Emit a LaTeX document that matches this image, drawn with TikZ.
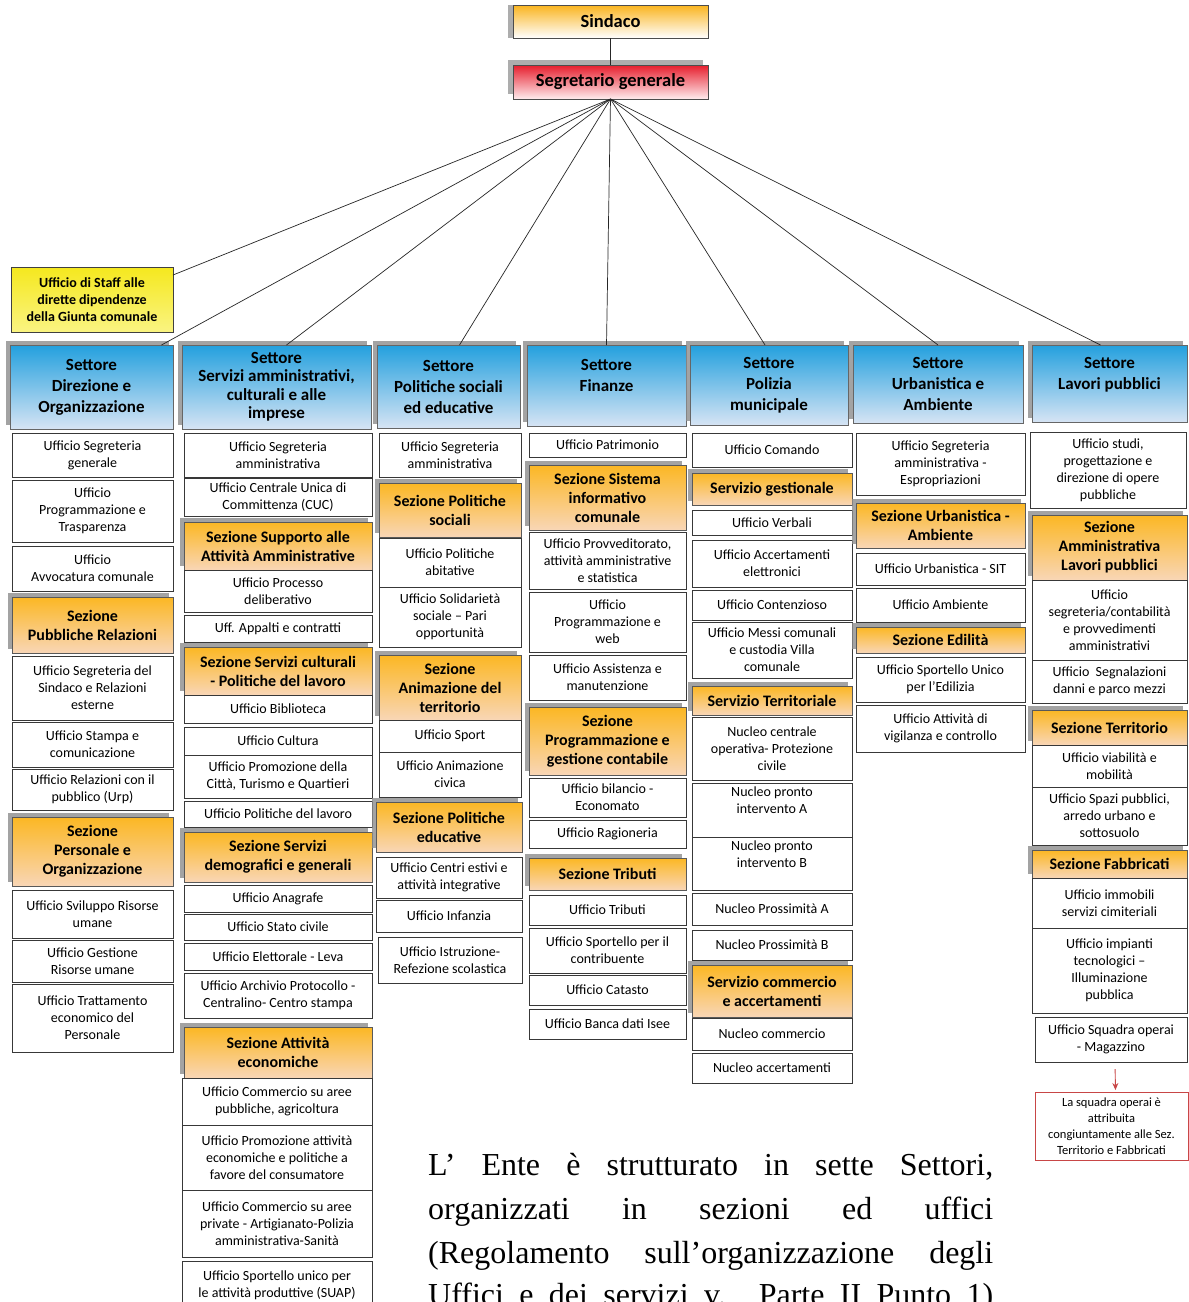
\documentclass[tikz,border=0pt]{standalone}
\usepackage{fontspec}
\setmainfont{Carlito}
\newfontfamily\timesf{Liberation Serif}
\usetikzlibrary{calc,shadows,arrows.meta}
\definecolor{sindT}{RGB}{250,180,30}
\definecolor{segT}{RGB}{230,30,45}
\definecolor{segB}{RGB}{255,236,238}
\definecolor{staffT}{RGB}{245,232,30}
\definecolor{staffB}{RGB}{250,244,130}
\definecolor{setT}{RGB}{35,160,222}
\definecolor{setB}{RGB}{214,228,244}
\definecolor{sezT}{RGB}{251,183,35}
\definecolor{sezB}{RGB}{249,214,182}
\definecolor{noteR}{RGB}{200,70,70}
\newcommand\bx[7]{\node[#2, minimum width={(#5-#3)*1pt}, minimum height={(#6-#4)*1pt}] (#1) at ({(#3+#5)/2},{(#4+#6)/2}) {#7};}
\tikzset{
  boxbase/.style={align=center, inner sep=1pt, outer sep=0pt},
  ufbox/.style={boxbase, draw=black!78, line width=1pt, fill=white, font=\fontsize{14}{17}\selectfont},
  sezbox/.style={boxbase, draw=black!65, line width=0.8pt, top color=sezT, bottom color=sezB,
     font=\bfseries\fontsize{16}{19}\selectfont,
     drop shadow={shadow xshift=-4pt, shadow yshift=4pt, fill=black!45, opacity=0.8}},
  setbox/.style={boxbase, draw=black!60, line width=0.8pt, top color=setT, bottom color=setB,
     font=\bfseries\fontsize{17}{21}\selectfont,
     drop shadow={shadow xshift=-4pt, shadow yshift=4pt, fill=black!45, opacity=0.8}},
  sindbox/.style={boxbase, draw=black!70, line width=0.8pt, top color=sindT, bottom color=white,
     font=\bfseries\fontsize{18.5}{22}\selectfont,
     drop shadow={shadow xshift=-5pt, shadow yshift=0pt, fill=black!40, opacity=0.8}},
  segbox/.style={boxbase, draw=black!70, line width=0.8pt, top color=segT, bottom color=segB,
     font=\bfseries\fontsize{18.5}{22}\selectfont,
     drop shadow={shadow xshift=-5pt, shadow yshift=5pt, fill=black!40, opacity=0.8}},
  staffbox/.style={boxbase, draw=black!75, line width=0.9pt, top color=staffT, bottom color=staffB,
     font=\bfseries\fontsize{14}{17}\selectfont},
  notebox/.style={boxbase, draw=noteR, line width=0.8pt, fill=white, font=\fontsize{12.5}{16}\selectfont},
  conn/.style={draw=black!85, line width=0.7pt},
  redarr/.style={draw=noteR, line width=0.9pt, -{Stealth[length=7pt,width=6pt]}},
  txtline/.style={anchor=base west, inner sep=0pt, font=\timesf\fontsize{32}{44}\selectfont}
}
\begin{document}
\begin{tikzpicture}[x=1pt,y=-1pt]
\useasboundingbox (0,0) rectangle (1189,1302);
\fill[white] (0,0) rectangle (1189,1302);
% top
\bx{sind}{sindbox}{513}{5}{708}{38}{Sindaco}
\bx{seg}{segbox}{513}{65}{708}{99}{Segretario generale}
\bx{staff}{staffbox}{11}{267}{173}{332}{Ufficio di Staff alle\\dirette dipendenze\\della Giunta comunale}
% column 1
\bx{c1h}{setbox}{10}{345}{173}{429}{Settore\\Direzione e\\Organizzazione}
\bx{c1a}{ufbox}{12}{433}{173}{477}{Ufficio Segreteria\\generale}
\bx{c1b}{ufbox}{12}{480}{173}{542}{Ufficio\\Programmazione e\\Trasparenza}
\bx{c1c}{ufbox}{12}{546}{173}{591}{Ufficio\\Avvocatura comunale}
\bx{c1s1}{sezbox}{12}{597}{173}{653}{Sezione\\Pubbliche Relazioni}
\bx{c1d}{ufbox}{12}{656}{173}{720}{Ufficio Segreteria del\\Sindaco e Relazioni\\esterne}
\bx{c1e}{ufbox}{12}{722}{173}{767}{Ufficio Stampa e\\comunicazione}
\bx{c1f}{ufbox}{12}{769}{173}{810}{Ufficio Relazioni con il\\pubblico (Urp)}
\bx{c1s2}{sezbox}{12}{817}{173}{886}{Sezione\\Personale e\\Organizzazione}
\bx{c1g}{ufbox}{12}{890}{173}{938}{Ufficio Sviluppo Risorse\\umane}
\bx{c1i}{ufbox}{12}{940}{173}{982}{Ufficio Gestione\\Risorse umane}
\bx{c1j}{ufbox}{12}{984}{173}{1052}{Ufficio Trattamento\\economico del\\Personale}
% column 2
\bx{c2h}{setbox, font=\bfseries\fontsize{17}{18.5}\selectfont}{182}{345}{371}{429}{Settore\\Servizi amministrativi,\\culturali e alle\\imprese}
\bx{c2a}{ufbox}{184}{433}{372}{477}{Ufficio Segreteria\\amministrativa}
\bx{c2b}{ufbox}{184}{478}{372}{516}{Ufficio Centrale Unica di\\Committenza (CUC)}
\bx{c2s1}{sezbox}{184}{522}{372}{570}{Sezione Supporto alle\\Attività Amministrative}
\bx{c2c}{ufbox}{184}{570}{372}{612}{Ufficio Processo\\deliberativo}
\bx{c2d}{ufbox}{184}{615}{372}{642}{Uff. Appalti e contratti}
\bx{c2s2}{sezbox}{184}{647}{372}{695}{Sezione Servizi culturali\\- Politiche del lavoro}
\bx{c2e}{ufbox}{184}{695}{372}{723}{Ufficio Biblioteca}
\bx{c2f}{ufbox}{184}{727}{372}{755}{Ufficio Cultura}
\bx{c2g}{ufbox}{184}{755}{372}{798}{Ufficio Promozione della\\Città, Turismo e Quartieri}
\bx{c2i}{ufbox}{184}{801}{372}{827}{Ufficio Politiche del lavoro}
\bx{c2s3}{sezbox}{184}{832}{372}{882}{Sezione Servizi\\demografici e generali}
\bx{c2j}{ufbox}{184}{885}{372}{912}{Ufficio Anagrafe}
\bx{c2k}{ufbox}{184}{914}{372}{940}{Ufficio Stato civile}
\bx{c2l}{ufbox}{184}{943}{372}{970}{Ufficio Elettorale - Leva}
\bx{c2m}{ufbox}{184}{973}{372}{1018}{Ufficio Archivio Protocollo -\\Centralino- Centro stampa}
\bx{c2s4}{sezbox}{184}{1027}{372}{1078}{Sezione Attività\\economiche}
\bx{c2n}{ufbox}{182}{1078}{372}{1125}{Ufficio Commercio su aree\\pubbliche, agricoltura}
\bx{c2o}{ufbox}{182}{1125}{372}{1190}{Ufficio Promozione attività\\economiche e politiche a\\favore del consumatore}
\bx{c2p}{ufbox}{182}{1190}{372}{1257}{Ufficio Commercio su aree\\private - Artigianato-Polizia\\amministrativa-Sanità}
\bx{c2q}{ufbox}{182}{1261}{372}{1310}{Ufficio Sportello unico per\\le attività produttive (SUAP)}
% column 3
\bx{c3h}{setbox}{377}{345}{520}{428}{Settore\\Politiche sociali\\ed educative}
\bx{c3a}{ufbox}{379}{433}{521}{477}{Ufficio Segreteria\\amministrativa}
\bx{c3s1}{sezbox}{379}{483}{521}{537}{Sezione Politiche\\sociali}
\bx{c3b}{ufbox}{379}{538}{521}{587}{Ufficio Politiche\\abitative}
\bx{c3c}{ufbox}{379}{587}{521}{647}{Ufficio Solidarietà\\sociale – Pari\\opportunità}
\bx{c3s2}{sezbox}{379}{655}{521}{720}{Sezione\\Animazione del\\territorio}
\bx{c3d}{ufbox}{379}{720}{521}{752}{Ufficio Sport}
\bx{c3e}{ufbox}{379}{752}{521}{797}{Ufficio Animazione\\civica}
\bx{c3s3}{sezbox}{376}{802}{522}{852}{Sezione Politiche\\educative}
\bx{c3f}{ufbox}{376}{857}{522}{898}{Ufficio Centri estivi e\\attività integrative}
\bx{c3g}{ufbox}{376}{900}{522}{932}{Ufficio Infanzia}
\bx{c3i}{ufbox}{378}{937}{522}{983}{Ufficio Istruzione-\\Refezione scolastica}
% column 4
\bx{c4h}{setbox}{527}{345}{686}{426}{Settore\\Finanze\\~}
\bx{c4a}{ufbox}{529}{433}{686}{457}{Ufficio Patrimonio}
\bx{c4s1}{sezbox}{529}{465}{686}{530}{Sezione Sistema\\informativo\\comunale}
\bx{c4b}{ufbox}{529}{532}{686}{589}{Ufficio Provveditorato,\\attività amministrative\\e statistica}
\bx{c4c}{ufbox}{529}{592}{686}{652}{Ufficio\\Programmazione e\\web}
\bx{c4d}{ufbox}{529}{655}{686}{700}{Ufficio Assistenza e\\manutenzione}
\bx{c4s2}{sezbox}{529}{707}{686}{775}{Sezione\\Programmazione e\\gestione contabile}
\bx{c4e}{ufbox}{529}{778}{686}{817}{Ufficio bilancio -\\Economato}
\bx{c4f}{ufbox}{529}{820}{686}{848}{Ufficio Ragioneria}
\bx{c4s3}{sezbox}{529}{858}{686}{890}{Sezione Tributi}
\bx{c4g}{ufbox}{529}{895}{686}{925}{Ufficio Tributi}
\bx{c4i}{ufbox}{529}{928}{686}{973}{Ufficio Sportello per il\\contribuente}
\bx{c4j}{ufbox}{529}{975}{686}{1005}{Ufficio Catasto}
\bx{c4k}{ufbox}{529}{1009}{686}{1039}{Ufficio Banca dati Isee}
% column 5
\bx{c5h}{setbox}{690}{345}{848}{425}{Settore\\Polizia\\municipale}
\bx{c5a}{ufbox}{692}{433}{852}{467}{Ufficio Comando}
\bx{c5s1}{sezbox}{692}{473}{852}{505}{Servizio gestionale}
\bx{c5b}{ufbox}{692}{510}{852}{535}{Ufficio Verbali}
\bx{c5c}{ufbox}{692}{540}{852}{587}{Ufficio Accertamenti\\elettronici}
\bx{c5d}{ufbox}{692}{590}{852}{620}{Ufficio Contenzioso}
\bx{c5e}{ufbox}{692}{622}{852}{678}{Ufficio Messi comunali\\e custodia Villa\\comunale}
\bx{c5s2}{sezbox}{692}{686}{852}{715}{Servizio Territoriale}
\bx{c5f}{ufbox}{692}{717}{852}{780}{Nucleo centrale\\operativa- Protezione\\civile}
\bx{c5g}{ufbox}{692}{783}{852}{837}{Nucleo pronto\\intervento A\\[2pt]}
\bx{c5i}{ufbox}{692}{837}{852}{890}{Nucleo pronto\\intervento B\\[2pt]}
\bx{c5j}{ufbox}{692}{893}{852}{925}{Nucleo Prossimità A}
\bx{c5k}{ufbox}{692}{930}{852}{960}{Nucleo Prossimità B}
\bx{c5s3}{sezbox}{692}{965}{852}{1017}{Servizio commercio\\e accertamenti}
\bx{c5l}{ufbox}{692}{1018}{852}{1050}{Nucleo commercio}
\bx{c5m}{ufbox}{692}{1053}{852}{1083}{Nucleo accertamenti}
% column 6
\bx{c6h}{setbox}{853}{345}{1023}{423}{Settore\\Urbanistica e\\Ambiente}
\bx{c6a}{ufbox}{856}{433}{1025}{495}{Ufficio Segreteria\\amministrativa -\\Espropriazioni}
\bx{c6s1}{sezbox}{856}{503}{1025}{548}{Sezione Urbanistica -\\Ambiente}
\bx{c6b}{ufbox}{856}{553}{1025}{585}{Ufficio Urbanistica - SIT}
\bx{c6c}{ufbox}{856}{588}{1025}{622}{Ufficio Ambiente}
\bx{c6s2}{sezbox}{856}{627}{1025}{653}{Sezione Edilità}
\bx{c6d}{ufbox}{856}{657}{1025}{702}{Ufficio Sportello Unico\\per l’Edilizia}
\bx{c6e}{ufbox}{856}{705}{1025}{752}{Ufficio Attività di\\vigilanza e controllo}
% column 7
\bx{c7h}{setbox}{1032}{345}{1187}{422}{Settore\\Lavori pubblici\\~}
\bx{c7a}{ufbox}{1030}{432}{1186}{508}{Ufficio studi,\\progettazione e\\direzione di opere\\pubbliche}
\bx{c7s1}{sezbox}{1032}{515}{1187}{580}{Sezione\\Amministrativa\\Lavori pubblici}
\bx{c7b}{ufbox}{1032}{580}{1187}{660}{Ufficio\\segreteria/contabilità\\e provvedimenti\\amministrativi}
\bx{c7c}{ufbox}{1032}{660}{1187}{703}{Ufficio~ Segnalazioni\\danni e parco mezzi}
\bx{c7s2}{sezbox}{1032}{710}{1187}{745}{Sezione Territorio}
\bx{c7d}{ufbox}{1032}{745}{1187}{787}{Ufficio viabilità e\\mobilità}
\bx{c7e}{ufbox}{1032}{787}{1187}{845}{Ufficio Spazi pubblici,\\arredo urbano e\\sottosuolo}
\bx{c7s3}{sezbox}{1032}{850}{1187}{878}{Sezione Fabbricati}
\bx{c7f}{ufbox}{1032}{878}{1187}{928}{Ufficio immobili\\servizi cimiteriali}
\bx{c7g}{ufbox}{1032}{928}{1187}{1013}{Ufficio impianti\\tecnologici –\\Illuminazione\\pubblica}
\bx{c7i}{ufbox}{1035}{1017}{1187}{1062}{Ufficio Squadra operai\\- Magazzino}
\bx{note}{notebox}{1035}{1092}{1188}{1160}{La squadra operai è\\attribuita\\congiuntamente alle Sez.\\Territorio e Fabbricati}
% connectors
\draw[conn] (sind) -- (seg);
\draw[conn] (seg.south) -- ($(staff.north east)+(0,8)$);
\draw[conn] (seg.south) -- ($(c1h.north)+(70,0)$);
\draw[conn] (seg.south) -- ($(c2h.north)+(10,0)$);
\draw[conn] (seg.south) -- ($(c3h.north)+(11,0)$);
\draw[conn] (seg.south) -- (c4h.north);
\draw[conn] (seg.south) -- ($(c5h.north)+(-4,0)$);
\draw[conn] (seg.south) -- (c6h.north);
\draw[conn] (seg.south) -- ($(c7h.north)+(-9,0)$);
\draw[redarr, shorten <=7pt, shorten >=2pt] ($(c7i.south)+(4,0)$) -- ($(note.north)+(4,0)$);
% paragraph
\node[txtline] (t1) at (428,1175) {\makebox[565pt][s]{L’ Ente è strutturato in sette Settori,}};
\node[txtline] (t2) at (428,1219) {\makebox[565pt][s]{organizzati in sezioni ed uffici}};
\node[txtline] (t3) at (428,1263) {\makebox[565pt][s]{(Regolamento sull’organizzazione degli}};
\node[txtline] (t4) at (428,1305) {\makebox[565pt][s]{Uffici e dei servizi v. Parte II Punto 1)}};
\end{tikzpicture}
\end{document}
